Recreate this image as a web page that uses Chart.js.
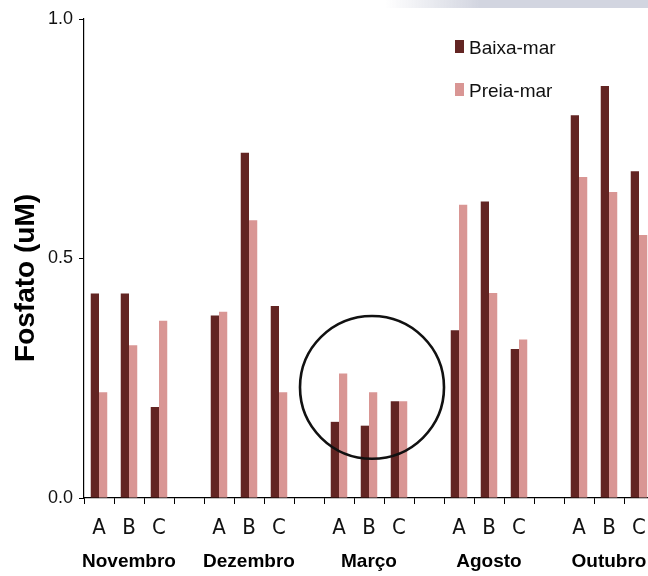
<!DOCTYPE html>
<html><head><meta charset="utf-8">
<script src="https://cdn.jsdelivr.net/npm/chart.js@4.4.1/dist/chart.umd.min.js"></script>
<style>
html,body{margin:0;padding:0;background:#fff;overflow:hidden;width:648px;height:576px}
#wrap{width:648px;height:576px;overflow:hidden;position:relative}
canvas{display:block}
</style></head>
<body><div id="wrap"><canvas id="c" width="660" height="576"></canvas></div>
<script>
const months = ['Novembro', 'Dezembro', 'Março', 'Agosto', 'Outubro'];
const sites = ['A', 'B', 'C'];
const baixaMar = [0.427, 0.427, 0.190, 0.381, 0.721, 0.401, 0.159, 0.151, 0.202, 0.350, 0.619, 0.311, 0.799, 0.860, 0.682];
const preiaMar = [0.221, 0.319, 0.370, 0.389, 0.580, 0.221, 0.260, 0.221, 0.202, 0.612, 0.428, 0.331, 0.670, 0.639, 0.549];
const yTicks = [0.0, 0.5, 1.0];
const seriesNames = ['Baixa-mar', 'Preia-mar'];

// build category axis with an empty gap slot between months
const siteLabels = [], monthLabels = [], baixaData = [], preiaData = [];
months.forEach((m, mi) => {
  sites.forEach((s, si) => {
    siteLabels.push(s);
    monthLabels.push(si === 1 ? m : '');
    baixaData.push(baixaMar[mi * 3 + si]);
    preiaData.push(preiaMar[mi * 3 + si]);
  });
  if (mi < months.length - 1) { siteLabels.push(''); monthLabels.push(''); baixaData.push(null); preiaData.push(null); }
});

const COND = '"DejaVu Sans Condensed", "Liberation Sans", sans-serif';
const REG = '"Liberation Sans", Arial, sans-serif';

const topBand = {
  id: 'topBand',
  beforeDraw(chart) {
    const ctx = chart.ctx;
    ctx.save();
    const g = ctx.createLinearGradient(385, 0, 480, 0);
    g.addColorStop(0, 'rgba(210,213,224,0)');
    g.addColorStop(1, 'rgba(210,213,224,1)');
    ctx.fillStyle = g;
    ctx.fillRect(385, 0, chart.width - 385, 8);
    ctx.restore();
  }
};

const circle = {
  id: 'circle',
  afterDatasetsDraw(chart) {
    const x = chart.scales.x, y = chart.scales.y, ctx = chart.ctx;
    const cx = x.getPixelForValue(9.1);
    const rx = x.getPixelForValue(9.1 + 2.4) - cx;
    const cy = y.getPixelForValue(0.231);
    const ry = y.getPixelForValue(0.231 - 0.149) - cy;
    ctx.save();
    ctx.beginPath();
    ctx.ellipse(cx, cy, rx, ry, 0, 0, Math.PI * 2);
    ctx.lineWidth = 2.6;
    ctx.strokeStyle = '#111';
    ctx.stroke();
    ctx.restore();
  }
};

const legendBox = {
  id: 'legendBox',
  afterDraw(chart) {
    const ctx = chart.ctx;
    ctx.save();
    chart.data.datasets.forEach((ds, i) => {
      const top = 40 + i * 43;
      ctx.fillStyle = ds.backgroundColor;
      ctx.fillRect(455, top, 9, 13);
      ctx.fillStyle = '#111';
      ctx.font = '19px ' + REG;
      ctx.textBaseline = 'alphabetic';
      ctx.textAlign = 'left';
      ctx.fillText(ds.label, 469, top + 14);
    });
    ctx.restore();
  }
};

new Chart(document.getElementById('c'), {
  type: 'bar',
  data: {
    labels: siteLabels,
    datasets: [
      { label: seriesNames[0], data: baixaData, backgroundColor: '#632523', borderWidth: 0 },
      { label: seriesNames[1], data: preiaData, backgroundColor: '#d99694', borderWidth: 0 }
    ]
  },
  options: {
    responsive: false,
    animation: false,
    devicePixelRatio: 1,
    layout: { padding: { top: 19, right: 6, left: 0, bottom: 0 } },
    datasets: { bar: { barPercentage: 1.0, categoryPercentage: 0.55 } },
    plugins: { legend: { display: false }, tooltip: { enabled: false } },
    scales: {
      y: {
        min: 0, max: 1,
        afterBuildTicks: s => { s.ticks = yTicks.map(v => ({ value: v })); },
        afterFit: s => { s.width = 84; },
        border: { color: '#000', width: 1.2 },
        grid: { drawOnChartArea: false, tickLength: 5, color: '#000' },
        ticks: { color: '#111', padding: 6, font: { family: REG, size: 18 }, callback: v => Number(v).toFixed(1) },
        title: { display: true, text: 'Fosfato (uM)\u00a0\u00a0\u00a0\u00a0\u00a0', color: '#000', font: { family: REG, size: 28, weight: 'bold', lineHeight: 1 }, padding: { top: 12, bottom: 0 } }
      },
      x: {
        type: 'category',
        offset: true,
        afterFit: s => { s.height = 40; },
        border: { color: '#000', width: 1.2 },
        grid: { offset: true, drawOnChartArea: false, tickLength: 6, color: '#000' },
        ticks: { color: '#111', autoSkip: false, maxRotation: 0, minRotation: 0, padding: 11, font: { family: COND, size: 22 } }
      },
      x2: {
        type: 'category',
        position: 'bottom',
        labels: monthLabels,
        offset: true,
        afterFit: s => { s.height = 38; },
        border: { display: false },
        grid: { display: false },
        ticks: { color: '#000', autoSkip: false, maxRotation: 0, minRotation: 0, padding: 4, font: { family: REG, size: 19, weight: 'bold' } }
      }
    }
  },
  plugins: [topBand, circle, legendBox]
});
</script>
</body></html>
